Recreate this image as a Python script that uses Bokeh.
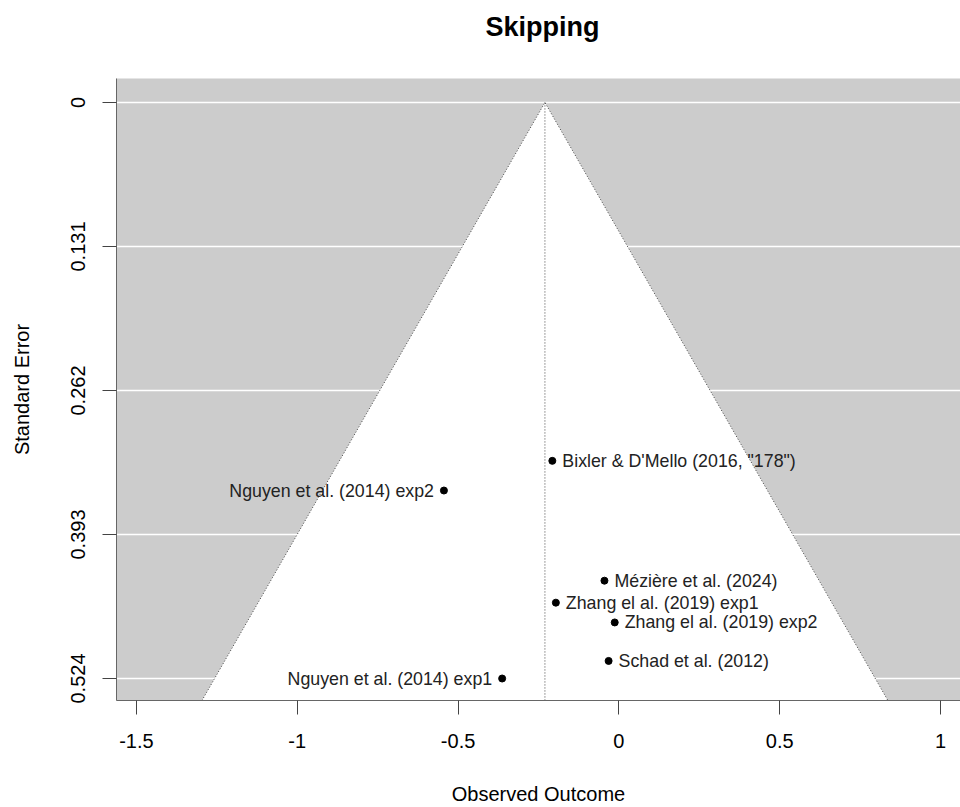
from bokeh.plotting import figure
from bokeh.models import Range1d, FixedTicker, ColumnDataSource, Title
from bokeh.core.properties import value
from bokeh.embed import file_html
from bokeh.resources import INLINE

# ---- data ----
studies = [
    'Bixler & D\'Mello (2016, "178")',
    "Nguyen et al. (2014) exp2",
    "Mézière et al. (2024)",
    "Zhang el al. (2019) exp1",
    "Zhang el al. (2019) exp2",
    "Schad et al. (2012)",
    "Nguyen et al. (2014) exp1",
]
yi = [-0.207, -0.544, -0.045, -0.196, -0.013, -0.032, -0.363]
sei = [0.326, 0.353, 0.435, 0.455, 0.473, 0.508, 0.524]
estimate = -0.230
title_text = "Skipping"

x_ticks = [-1.5, -1.0, -0.5, 0.0, 0.5, 1.0]
x_tick_labels = ["-1.5", "-1", "-0.5", "0", "0.5", "1"]
y_ticks = [0.0, 0.131, 0.262, 0.393, 0.524]
y_tick_labels = ["0", "0.131", "0.262", "0.393", "0.524"]

FONT = "Liberation Sans"
x_lo, x_hi = -1.562, 1.062
y_bottom, y_top = 0.544, -0.0218

p = figure(
    width=960, height=807,
    x_range=Range1d(x_lo, x_hi), y_range=Range1d(y_bottom, y_top),
    output_backend="svg", toolbar_location=None,
    min_border_left=116, min_border_right=0, min_border_top=78, min_border_bottom=107,
)
p.background_fill_color = "#cccccc"
p.border_fill_color = "white"
p.outline_line_color = None

# spacer between title and frame, then the title itself (further from the frame)
p.add_layout(Title(text=" ", text_font_size="10px", standoff=24), "above")
p.add_layout(Title(text=title_text, align="left", offset=369, standoff=0,
                   text_font=FONT, text_font_size="27px", text_font_style="bold",
                   text_color="black"), "above")

# grid
p.xgrid.visible = False
p.ygrid.ticker = FixedTicker(ticks=y_ticks)
p.ygrid.grid_line_color = "white"
p.ygrid.grid_line_width = 1.5

# funnel
fx = [estimate - 1.96 * y_bottom, estimate, estimate + 1.96 * y_bottom]
fy = [y_bottom, 0.0, y_bottom]
p.patch(fx, fy, fill_color="white", line_color=None)
p.line(fx, fy, line_color="#444444", line_dash="1 2", line_width=1)
p.line([estimate, estimate], [0.0, y_bottom], line_color="#444444", line_dash="1 2", line_width=1)

# points
src = ColumnDataSource(dict(x=yi, y=sei, t=studies))
p.scatter("x", "y", source=src, size=7, fill_color="black", line_color="black")

right = [i for i in range(len(yi)) if yi[i] >= estimate]
left = [i for i in range(len(yi)) if yi[i] < estimate]
src_r = ColumnDataSource(dict(x=[yi[i] for i in right], y=[sei[i] for i in right], t=[studies[i] for i in right]))
src_l = ColumnDataSource(dict(x=[yi[i] for i in left], y=[sei[i] for i in left], t=[studies[i] for i in left]))
p.text("x", "y", text="t", source=src_r, x_offset=10, text_align="left", text_baseline="middle",
       text_font=value(FONT), text_font_size="17.8px", text_color="#222222")
p.text("x", "y", text="t", source=src_l, x_offset=-10, text_align="right", text_baseline="middle",
       text_font=value(FONT), text_font_size="17.8px", text_color="#222222")

# axes
for ax in (p.xaxis[0], p.yaxis[0]):
    ax.axis_line_color = "#666666"
    ax.major_tick_line_color = "#444444"
    ax.major_tick_out = 14
    ax.major_tick_in = 0
    ax.minor_tick_line_color = None
    ax.major_label_text_font = FONT
    ax.major_label_text_font_size = "20px"
    ax.major_label_text_color = "black"
    ax.axis_label_text_font = FONT
    ax.axis_label_text_font_size = "20px"
    ax.axis_label_text_font_style = "normal"
    ax.axis_label_text_color = "black"

p.xaxis.ticker = FixedTicker(ticks=x_ticks)
p.xaxis.major_label_overrides = {t: l for t, l in zip(x_ticks, x_tick_labels)}
p.xaxis.major_label_standoff = 19
p.xaxis.axis_label = "Observed Outcome"
p.xaxis.axis_label_standoff = 32

p.yaxis.ticker = FixedTicker(ticks=y_ticks)
p.yaxis.major_label_overrides = {t: l for t, l in zip(y_ticks, y_tick_labels)}
p.yaxis.major_label_orientation = "vertical"
p.yaxis.major_label_standoff = 17
p.yaxis.axis_label = "Standard Error"
p.yaxis.axis_label_standoff = 36

open("out.html", "w").write(file_html(p, INLINE))
